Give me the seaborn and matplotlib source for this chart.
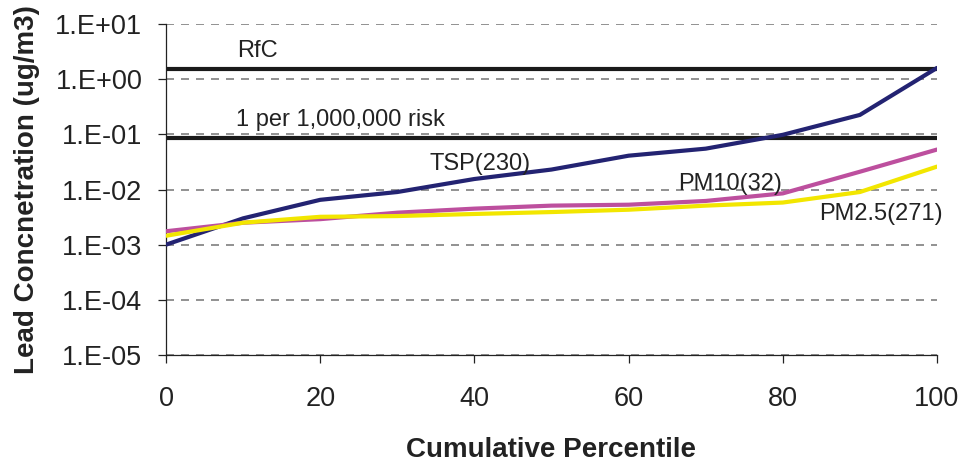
import matplotlib
matplotlib.use("Agg")
import matplotlib.pyplot as plt
import matplotlib.ticker as mticker
import numpy as np
import pandas as pd
import seaborn as sns

# Cumulative percentile of the monitored lead concentrations (ug/m3)
percentile = [0, 10, 20, 30, 40, 50, 60, 70, 80, 90, 100]
tsp = [1.0e-3, 3.0e-3, 6.5e-3, 9.0e-3, 1.55e-2, 2.3e-2, 4.1e-2, 5.5e-2, 9.8e-2, 2.25e-1, 1.6]
pm10 = [1.75e-3, 2.5e-3, 2.9e-3, 3.8e-3, 4.5e-3, 5.1e-3, 5.3e-3, 6.2e-3, 8.5e-3, 2.1e-2, 5.3e-2]
pm25 = [1.45e-3, 2.5e-3, 3.2e-3, 3.3e-3, 3.6e-3, 3.9e-3, 4.3e-3, 5.1e-3, 5.8e-3, 9.0e-3, 2.6e-2]

series_names = ["TSP(230)", "PM10(32)", "PM2.5(271)"]
series_colors = ["#232372", "#bd4f9e", "#f2e600"]

# Health benchmarks
rfc_value = 1.5
risk_value = 0.085
benchmark_labels = ["RfC", "1 per 1,000,000 risk"]

y_exponents = [1, 0, -1, -2, -3, -4, -5]
x_ticks = [0, 20, 40, 60, 80, 100]

df = pd.DataFrame({
    "percentile": percentile * 3,
    "conc": tsp + pm10 + pm25,
    "series": [series_names[0]] * len(tsp) + [series_names[1]] * len(pm10)
              + [series_names[2]] * len(pm25),
})

sns.set_theme(style="white")
plt.rcParams["font.family"] = ["Liberation Sans", "DejaVu Sans"]

fig, ax = plt.subplots(figsize=(9.66, 4.63), dpi=100)
fig.subplots_adjust(left=166 / 966, right=937 / 966, top=1 - 24 / 463, bottom=1 - 355 / 463)

ax.set_yscale("log")
ax.set_ylim(1e-5, 1e1)
ax.set_xlim(0, 100)

# dashed decade gridlines
for e in y_exponents:
    ax.axhline(10.0 ** e, color="#7f7f7f", lw=1.2, ls=(0, (4.8, 4.2)), zorder=1)

# benchmark lines
ax.axhline(rfc_value, color="#1a1a1a", lw=3.0, zorder=2)
ax.axhline(risk_value, color="#1a1a1a", lw=3.0, zorder=2)

sns.lineplot(data=df, x="percentile", y="conc", hue="series",
             hue_order=series_names, palette=series_colors,
             linewidth=3.0, legend=False, ax=ax, zorder=3)

# text labels for lines
txt_kw = dict(fontsize=17, color="#222222", va="baseline", ha="left")
ax.text(9.2, 2.52, benchmark_labels[0], **txt_kw)
ax.text(9.1, 0.1416, benchmark_labels[1], **txt_kw)
ax.text(34.2, 0.0225, series_names[0], **txt_kw)
ax.text(66.4, 0.0098, series_names[1], **txt_kw)
ax.text(84.7, 0.0028, series_names[2], **txt_kw)

ax.yaxis.set_major_locator(mticker.FixedLocator([10.0 ** e for e in y_exponents]))
ax.yaxis.set_major_formatter(mticker.FixedFormatter([f"1.E{e:+03d}" for e in y_exponents]))
ax.yaxis.set_minor_locator(mticker.NullLocator())
ax.set_xticks(x_ticks)

ax.tick_params(axis="y", which="major", direction="out", length=6, width=0.9,
               color="#222222", labelsize=19.5, labelcolor="#222222", pad=11, left=True)
ax.tick_params(axis="x", which="major", direction="out", length=6, width=0.9,
               color="#222222", labelsize=19.5, labelcolor="#222222", pad=16, bottom=True)

for side in ["top", "right"]:
    ax.spines[side].set_visible(False)
for side in ["left", "bottom"]:
    ax.spines[side].set_color("#222222")
    ax.spines[side].set_linewidth(0.9)

ax.set_xlabel("Cumulative Percentile", fontsize=20, fontweight="bold", color="#222222")
ax.set_ylabel("Lead Concnetration (ug/m3)", fontsize=20, fontweight="bold", color="#222222")
ax.xaxis.label.set_va("center")
ax.yaxis.label.set_va("center")
ax.xaxis.set_label_coords(0.5, (355 - 450) / 331)
ax.yaxis.set_label_coords((27 - 166) / 771, 0.5)

fig.savefig("out.png", dpi=100, facecolor="white")
